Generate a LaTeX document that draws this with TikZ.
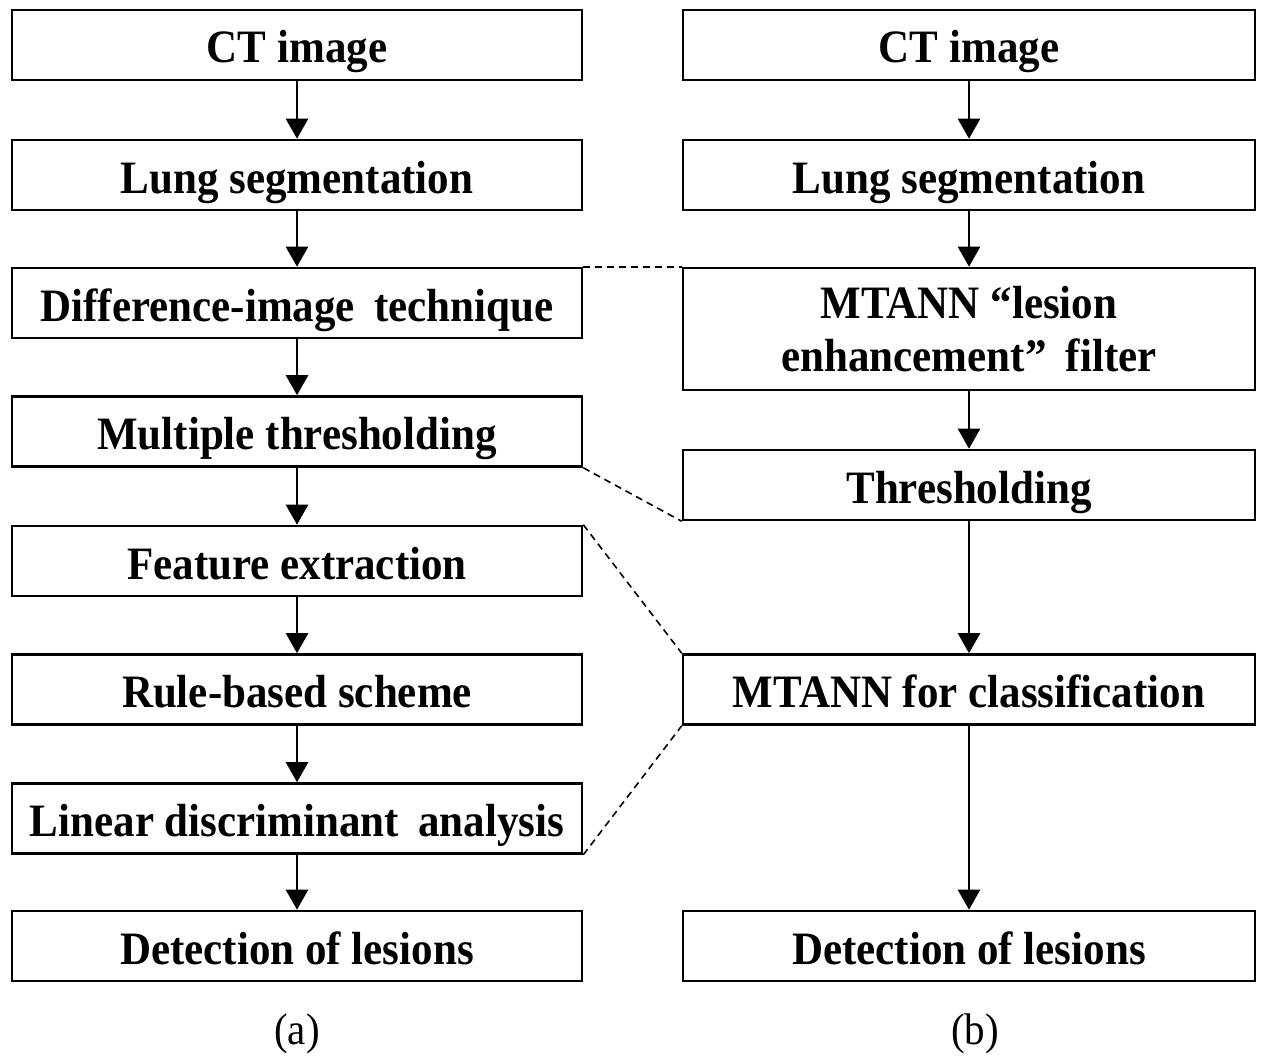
\documentclass[tikz,border=0pt]{standalone}
\usepackage{fontspec}
\usepackage{graphicx}
\setmainfont{Liberation Serif}
\usetikzlibrary{arrows.meta}
\newcommand{\tallt}[1]{\scalebox{1}[1.08]{#1}}
\begin{document}
\begin{tikzpicture}[x=1pt,y=-1pt,
  box/.style={draw,line width=2.6pt,rectangle,inner sep=0pt,minimum height=70pt,
    align=center,font=\fontsize{43}{51}\selectfont\bfseries},
  one/.style={text height=36pt,text depth=0pt},
  lbox/.style={box,one,minimum width=570pt},
  rbox/.style={box,minimum width=572pt},
  flow/.style={line width=2.6pt,-{Triangle[width=22pt,length=20pt]}},
  link/.style={line width=1.6pt,dash pattern=on 7pt off 5pt},
  captxt/.style={font=\fontsize{41}{48}\selectfont}]
\useasboundingbox (0,0) rectangle (1266,1057);
% left column
\node[lbox] (l1) at (297,45) {\tallt{CT image}};
\node[lbox] (l2) at (297,175) {\tallt{Lung segmentation}};
\node[lbox] (l3) at (297,303) {\tallt{Difference-image\hspace{0.45em}technique}};
\node[lbox] (l4) at (297,431.5) {\tallt{Multiple thresholding}};
\node[lbox] (l5) at (297,561) {\tallt{Feature extraction}};
\node[lbox] (l6) at (297,689.5) {\tallt{Rule-based scheme}};
\node[lbox] (l7) at (297,818.5) {\tallt{Linear discriminant\hspace{0.45em}analysis}};
\node[lbox] (l8) at (297,946) {\tallt{Detection of lesions}};
% right column
\node[rbox,one] (r1) at (969,45) {\tallt{CT image}};
\node[rbox,one] (r2) at (969,175) {\tallt{Lung segmentation}};
\node[rbox,minimum height=122pt] (r3) at (969,329) {\tallt{MTANN ``lesion}\\[2pt]\tallt{enhancement''\hspace{0.45em}filter}};
\node[rbox,one] (r4) at (969,485) {\tallt{Thresholding}};
\node[rbox,one] (r5) at (969,689.5) {\tallt{MTANN for classification}};
\node[rbox,one] (r6) at (969,946) {\tallt{Detection of lesions}};
% arrows
\foreach \a/\b in {l1/l2,l2/l3,l3/l4,l4/l5,l5/l6,l6/l7,l7/l8,r1/r2,r2/r3,r3/r4,r4/r5,r5/r6}
  \draw[flow] (\a.south) -- (\b.north);
% dashed links
\draw[link] (l3.north east) -- (r3.north west);
\draw[link] (l4.south east) -- (r4.south west);
\draw[link] (l5.north east) -- (r5.north west);
\draw[link] (l7.south east) -- (r5.south west);
% captions
\node[captxt] (ca) at (297,1034) {\tallt{(a)}};
\node[captxt] (cb) at (975,1034) {\tallt{(b)}};
\end{tikzpicture}
\end{document}
